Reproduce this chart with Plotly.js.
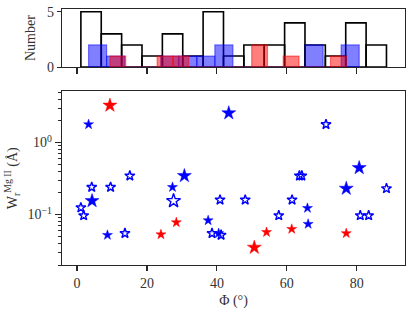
<!DOCTYPE html>
<html><head><meta charset="utf-8">
<script src="https://cdn.plot.ly/plotly-3.0.1.min.js"></script>
<style>html,body{margin:0;padding:0;background:#fff}#chart{width:415px;height:311px}</style>
</head><body><div id="chart"></div>
<script>
// ---- data ----
const blueFilledPhi = [3.3, 4.3, 8.7, 27.3, 30.7, 37.5, 40.5, 43.4, 65.9, 66.1, 77.0, 80.7];
const blueFilledW   = [1.78, 0.155, 0.052, 0.24, 0.345, 0.083, 0.055, 2.56, 0.123, 0.074, 0.23, 0.445];
const blueFilledBig = [0, 1, 0, 0, 1, 0, 0, 1, 0, 0, 1, 1];

const blueOpenPhi = [1.1, 1.9, 4.2, 9.6, 13.7, 15.1, 27.6, 38.6, 40.9, 41.2, 48.1, 57.7, 61.5, 63.6, 64.3, 71.2, 81.0, 83.4, 88.5];
const blueOpenW   = [0.125, 0.097, 0.24, 0.24, 0.055, 0.345, 0.155, 0.055, 0.16, 0.052, 0.16, 0.097, 0.16, 0.345, 0.345, 1.78, 0.097, 0.097, 0.23];
const blueOpenBig = [0, 0, 0, 0, 0, 0, 1, 0, 0, 0, 0, 0, 0, 0, 0, 0, 0, 0, 0];

const redPhi = [9.4, 24.0, 28.4, 50.7, 54.2, 61.4, 77.0];
const redW   = [3.27, 0.053, 0.078, 0.035, 0.057, 0.063, 0.055];
const redBig = [1, 0, 0, 1, 0, 0, 0];

const nBins = 15;
const xTickVals = [0, 20, 40, 60, 80];
const yTickVals = [0.1, 1];
const yTickText = ['10<sup>\u22121</sup>', '10<sup>0</sup>'];
const histTickVals = [0, 5];

// ---- helpers ----
function hist(vals, n) {
  const lo = Math.min(...vals), hi = Math.max(...vals), w = (hi - lo) / n;
  const counts = new Array(n).fill(0);
  vals.forEach(v => { let i = Math.floor((v - lo) / w); if (i >= n) i = n - 1; counts[i]++; });
  const centers = counts.map((_, i) => lo + (i + 0.5) * w);
  return {centers, counts, w};
}
const allPhi = blueFilledPhi.concat(blueOpenPhi, redPhi);
const hAll = hist(allPhi, nBins), hBlue = hist(blueFilledPhi, nBins), hRed = hist(redPhi, nBins);

const SMALL = 7.5, BIG = 10.5;
const sz = arr => arr.map(b => b ? BIG : SMALL);

const FONT = "'Liberation Serif', 'Times New Roman', serif";
const AX = '#262626';
const TXT = '#333';

const traces = [
  {type:'bar', x:hAll.centers, y:hAll.counts, width:hAll.centers.map(()=>hAll.w), xaxis:'x2', yaxis:'y2',
   marker:{color:'rgba(0,0,0,0)', line:{color:'black', width:1.6}}, hoverinfo:'skip'},
  {type:'bar', x:hBlue.centers, y:hBlue.counts, width:hBlue.centers.map(()=>hBlue.w), xaxis:'x2', yaxis:'y2',
   marker:{color:'rgba(0,0,255,0.5)', line:{color:'rgba(0,0,255,0.5)', width:1.2}}},
  {type:'bar', x:hRed.centers, y:hRed.counts, width:hRed.centers.map(()=>hRed.w), xaxis:'x2', yaxis:'y2',
   marker:{color:'rgba(255,0,0,0.5)', line:{color:'rgba(255,0,0,0.5)', width:1.2}}},
  {type:'scatter', mode:'markers', x:blueOpenPhi, y:blueOpenW,
   marker:{symbol:'star-open', size:sz(blueOpenBig), color:'blue', opacity:1, line:{color:'blue', width:1.4}}},
  {type:'scatter', mode:'markers', x:blueFilledPhi, y:blueFilledW,
   marker:{symbol:'star', size:sz(blueFilledBig), color:'blue', opacity:1, line:{color:'blue', width:0.5}}},
  {type:'scatter', mode:'markers', x:redPhi, y:redW,
   marker:{symbol:'star', size:sz(redBig), color:'red', opacity:1, line:{color:'red', width:0.5}}}
];

const minorVals = [];
for (let e = -2; e <= 0; e++) for (let m = 2; m <= 9; m++) minorVals.push(m * Math.pow(10, e));

const common = {showline:true, linecolor:AX, linewidth:1.3, mirror:true, showgrid:false, zeroline:false,
  ticks:'outside', tickcolor:AX, tickwidth:1.2, tickfont:{family:FONT, size:14, color:TXT}};

const layout = {
  width:415, height:311, margin:{l:62, r:10, t:9, b:46},
  paper_bgcolor:'white', plot_bgcolor:'white', showlegend:false, barmode:'overlay', bargap:0,
  font:{family:FONT, color:TXT},
  xaxis: Object.assign({}, common, {domain:[0,1], anchor:'y', range:[-4.3, 93.8], tickmode:'array', tickvals:xTickVals, ticklen:5,
    title:{text:'\u03A6 (\u00B0)', font:{family:FONT, size:14, color:TXT}, standoff:5}}),
  yaxis: Object.assign({}, common, {domain:[0,0.678], anchor:'x', type:'log', range:[Math.log10(0.02), 0.708],
    tickmode:'array', tickvals:yTickVals, ticktext:yTickText, ticklen:6,
    minor:{tickmode:'array', tickvals:minorVals, ticks:'outside', ticklen:3, tickcolor:AX, tickwidth:1, showgrid:false},
    title:{text:'W<sub>r</sub><sup>Mg II</sup> (\u00C5)', font:{family:FONT, size:14, color:TXT}, standoff:6}}),
  xaxis2: Object.assign({}, common, {domain:[0,1], anchor:'y2', range:[-4.3, 93.8], tickmode:'array', tickvals:xTickVals,
    ticklen:6, showticklabels:false}),
  yaxis2: Object.assign({}, common, {domain:[0.773,1], anchor:'x2', range:[0, 5.25], tickmode:'array', tickvals:histTickVals, ticklen:4,
    title:{text:'Number', font:{family:FONT, size:14, color:TXT}, standoff:8}})
};

Plotly.newPlot('chart', traces, layout, {staticPlot:true, displayModeBar:false});
</script>
</body></html>
